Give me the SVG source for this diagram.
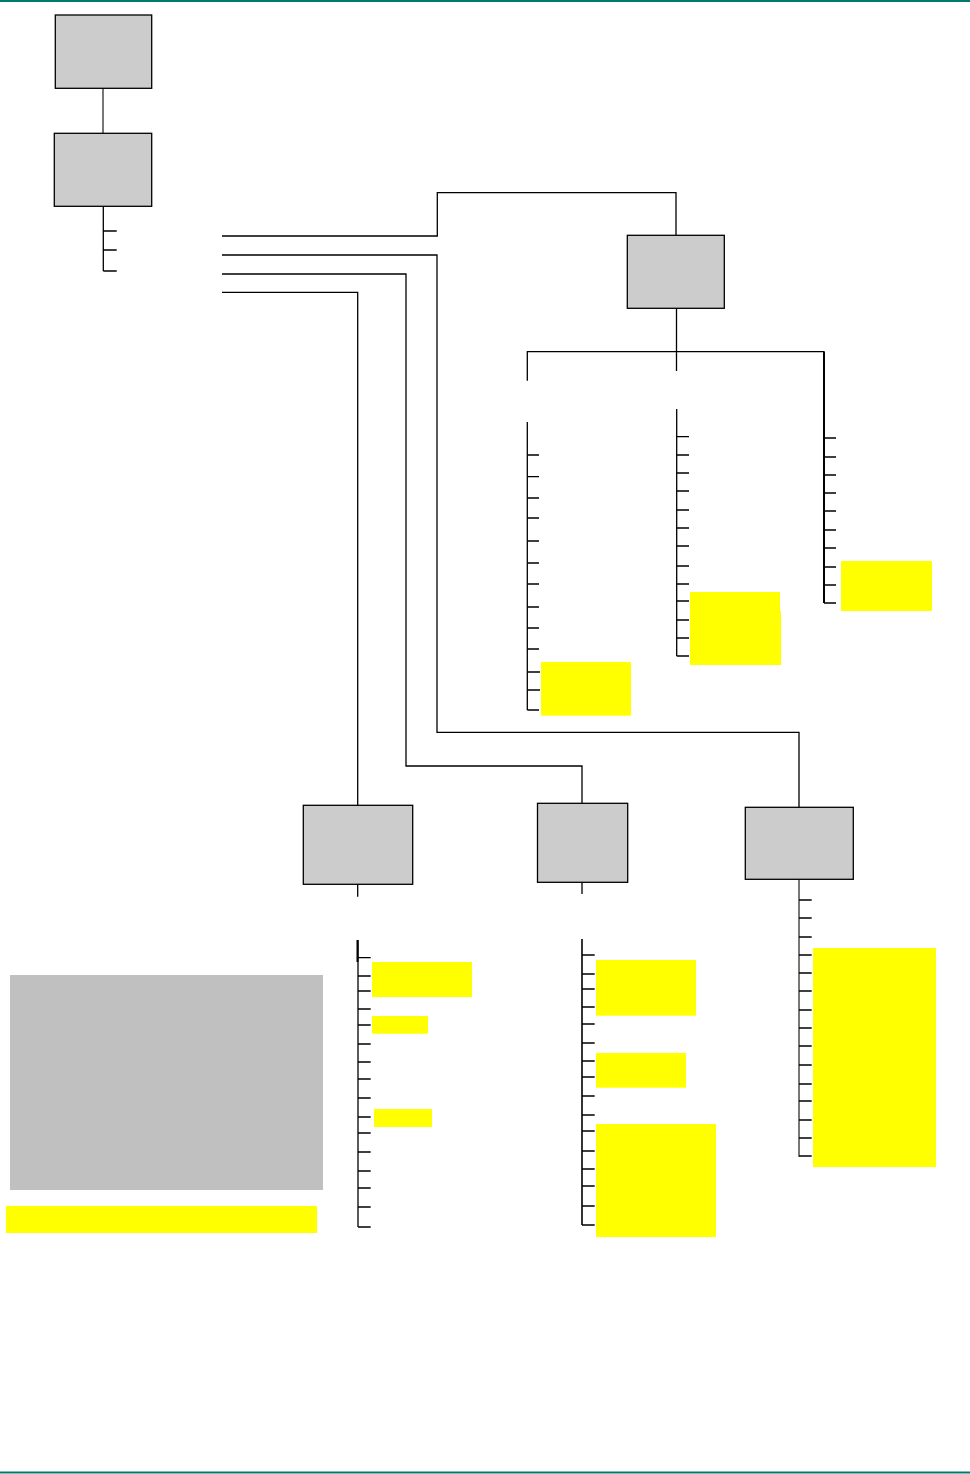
<svg xmlns="http://www.w3.org/2000/svg" width="970" height="1474" viewBox="0 0 970 1474">
<style>
.box{fill:#cccccc;stroke:#000;stroke-width:1.3}
.hl{fill:#ffff00;stroke:none}
.ln{fill:none;stroke:#000;stroke-width:1.3}
.gl{fill:none;stroke:#555;stroke-width:1.6}
.tk{fill:none;stroke:#000;stroke-width:1.3}
.band{stroke:#007a70;stroke-width:2}
</style>
<rect width="970" height="1474" fill="#fff"/>
<line class="band" x1="0" y1="1" x2="970" y2="1"/>
<line class="band" x1="0" y1="1472.5" x2="970" y2="1472.5"/>

<g id="connectors">
  <line class="gl" x1="103" y1="88" x2="103" y2="133"/>
  <path class="ln" d="M103.3 206V271M103.3 231H116.7M103.3 250H116.7M103.3 271H116.7"/>
  <path class="ln" d="M222 236H437.3V192.7H676V235.3"/>
  <path class="ln" d="M222 255H437V732.3H799V807.3"/>
  <path class="ln" d="M222 274H406V766H582V803.3"/>
  <path class="ln" d="M222 292.3H357.7V805.3"/>
  <!-- box C fan-out -->
  <path class="ln" d="M676.5 308V371M527.3 380.7V351.7H824V603"/>
  <path class="ln" d="M527.3 422V710M676.7 409V656"/>
  <path class="tk" d="M527.3 455H539M527.3 476.7H539M527.3 498H539M527.3 518H539M527.3 541H539M527.3 563H539M527.3 584H539M527.3 607H539M527.3 628H539M527.3 649H539M527.3 672H540M527.3 690H540M527.3 710H539"/>
  <path class="tk" d="M676.7 436.7H689M676.7 455H689M676.7 473H689M676.7 491H689M676.7 510H689M676.7 528H689M676.7 546H689M676.7 566H689M676.7 584H689M676.7 601H689M676.7 620H689M676.7 638H689M676.7 656H689"/>
  <path class="tk" style="stroke-width:2" d="M824 352V603"/>
  <path class="tk" d="M824 438H836M824 457H836M824 475H836M824 493H836M824 511H836M824 530H836M824 548H836M824 567H836M824 585H836M824 603H836"/>
  <!-- box D -->
  <path class="ln" d="M357.7 884.3V896.7"/>
  <path class="ln" d="M358 940V1227"/>
  <path class="tk" style="stroke-width:2" d="M357.5 940V962"/>
  <path class="tk" d="M358 957.7H370.7M358 976H370.7M358 991H370.7M358 1009H370.7M358 1025H370.7M358 1044H370.7M358 1062H370.7M358 1079H370.7M358 1098H370.7M358 1117H370.7M358 1133H370.7M358 1152H370.7M358 1171H370.7M358 1188H370.7M358 1207H370.7M358 1227H370.7"/>
  <!-- box E -->
  <path class="ln" d="M582 882.3V894"/>
  <path class="ln" style="stroke-width:1.6" d="M582 939V1225"/>
  <path class="tk" d="M582 955H594.7M582 974H594.7M582 989H594.7M582 1007H594.7M582 1024H594.7M582 1043H594.7M582 1061H594.7M582 1077H594.7M582 1096H594.7M582 1115H594.7M582 1131H594.7M582 1151H594.7M582 1169H594.7M582 1186H594.7M582 1206H594.7M582 1225H594.7"/>
  <!-- box F -->
  <path class="gl" d="M799 879.3V1156.7"/>
  <path class="tk" d="M799 900H811.7M799 918H811.7M799 937H811.7M799 955H811.7M799 973H811.7M799 991H811.7M799 1010H811.7M799 1028H811.7M799 1046H811.7M799 1065H811.7M799 1084H811.7M799 1101H811.7M799 1120H811.7M799 1138H811.7M799 1156H811.7"/>
</g>

<g id="node-top"><rect class="box" x="55.3" y="15" width="96.4" height="73.3"/></g>
<g id="node-root"><rect class="box" x="54.3" y="133.3" width="97.4" height="73"/></g>
<g id="node-c"><rect class="box" x="627.3" y="235.3" width="97" height="73"/></g>
<g id="node-d"><rect class="box" x="303.3" y="805.3" width="109.4" height="79"/></g>
<g id="node-e"><rect class="box" x="537.5" y="803.3" width="90.2" height="79"/></g>
<g id="node-f"><rect class="box" x="745.3" y="807.3" width="108" height="72"/></g>

<g id="highlights">
  <rect class="hl" x="541" y="662" width="90" height="53.7"/>
  <rect class="hl" x="690" y="592" width="90" height="20"/>
  <rect class="hl" x="690" y="611" width="91" height="54"/>
  <rect class="hl" x="841" y="561" width="91" height="50"/>
  <rect class="hl" x="372" y="962" width="100" height="35"/>
  <rect class="hl" x="372" y="1016" width="56" height="17.7"/>
  <rect class="hl" x="374" y="1109" width="58" height="18"/>
  <rect class="hl" x="596" y="960" width="100" height="55.7"/>
  <rect class="hl" x="596" y="1053" width="90" height="34.7"/>
  <rect class="hl" x="596" y="1124" width="120" height="113"/>
  <rect class="hl" x="813" y="948" width="123" height="219"/>
</g>

<g id="legend">
  <rect x="10" y="975" width="313" height="215" fill="#c0c0c0"/>
  <rect class="hl" x="6" y="1206" width="311" height="27"/>
</g>
</svg>
